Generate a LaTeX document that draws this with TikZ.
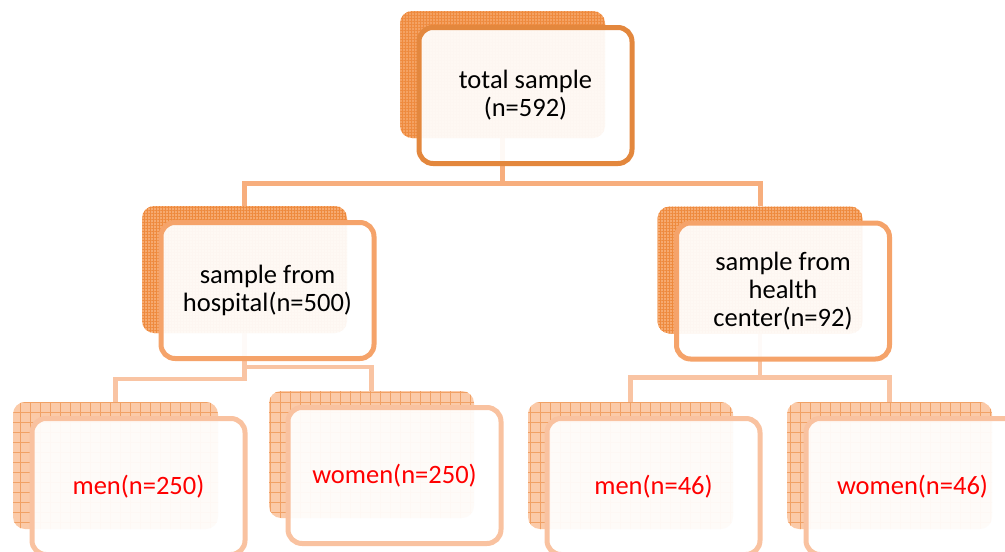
\documentclass[tikz,border=0pt]{standalone}
\usepackage{fontspec}
\setmainfont{Carlito}
\usepackage{xcolor}
\usepackage{tikz}
\usetikzlibrary{positioning,backgrounds,patterns.meta}
\definecolor{topline}{HTML}{E3873D}
\definecolor{midline}{HTML}{F5A36A}
\definecolor{lowline}{HTML}{F9C2A0}
\definecolor{linkone}{HTML}{F7AE7D}
\definecolor{linktwo}{HTML}{F9C4A3}
\definecolor{topshade}{HTML}{F4A263}
\definecolor{midshade}{HTML}{F6AA70}
\definecolor{lowshade}{HTML}{FBCAA8}
\definecolor{shadegrid}{HTML}{EE8A3E}
\definecolor{countred}{HTML}{FF0000}

\begin{document}
\begin{tikzpicture}[x=1pt,y=-1pt,font=\fontsize{26.5}{28}\selectfont,
  backcard/.style={rounded corners=12pt,minimum width=205pt,minimum height=127pt,inner sep=0pt,
    fill=#1,postaction={pattern={Hatch[distance=3pt,line width=.4pt]},pattern color=shadegrid}},
  backgrid/.style={rounded corners=12pt,minimum width=205pt,minimum height=127pt,inner sep=0pt,
    fill=lowshade,postaction={pattern={Hatch[distance=10pt,line width=.8pt]},pattern color=shadegrid!80}},
  frontcard/.style={draw=#1,line width=5pt,rounded corners=14pt,fill=white,fill opacity=.93,
    text opacity=1,minimum width=213pt,minimum height=136pt,inner sep=0pt,align=center},
  trunk/.style={draw=linkone,line width=5pt},
  twig/.style={draw=linktwo,line width=4.5pt}]
\useasboundingbox (0,0) rectangle (1005,552);

% top level
\node[backcard=topshade] (tot-bg) at (502.5,74.5) {};
\node[frontcard=topline] (tot) at ([shift={(23,21)}]tot-bg.center) {total sample\\(n=592)};

% second level
\node[backcard=midshade] (hosp-bg) at (244.5,269.5) {};
\node[frontcard=midline] (hosp) at ([shift={(23,21)}]hosp-bg.center) {sample from\\hospital(n=500)};
\node[backcard=midshade] (hc-bg) at (760,270) {};
\node[frontcard=midline] (hc) at ([shift={(23,21)}]hc-bg.center) {sample from\\health\\center(n=92)};

% third level
\node[backgrid] (men1-bg) at (115.5,465.5) {};
\node[frontcard=lowline,text=countred] (men1) at ([shift={(23,21)}]men1-bg.center) {men(n=250)};
\node[backgrid] (wom1-bg) at (371.5,454.5) {};
\node[frontcard=lowline,text=countred] (wom1) at ([shift={(23,21)}]wom1-bg.center) {women(n=250)};
\node[backgrid] (men2-bg) at (630.5,465.5) {};
\node[frontcard=lowline,text=countred] (men2) at ([shift={(23,21)}]men2-bg.center) {men(n=46)};
\node[backgrid] (wom2-bg) at (889.5,465.5) {};
\node[frontcard=lowline,text=countred] (wom2) at ([shift={(23,21)}]wom2-bg.center) {women(n=46)};

\begin{scope}[on background layer]
\draw[trunk] (tot-bg.south) -- ++(0,45) coordinate (fork1) -| (hosp-bg.north);
\draw[trunk] (fork1) -| (hc-bg.north);
\draw[twig] (hosp-bg.south) -- ++(0,46) -| (men1-bg.north);
\draw[twig] (hosp-bg.south) -- ++(0,34) -| (wom1-bg.north);
\draw[twig] (hc-bg.south) -- ++(0,44) coordinate (fork2) -| (men2-bg.north);
\draw[twig] (fork2) -| (wom2-bg.north);
\end{scope}
\end{tikzpicture}
\end{document}
